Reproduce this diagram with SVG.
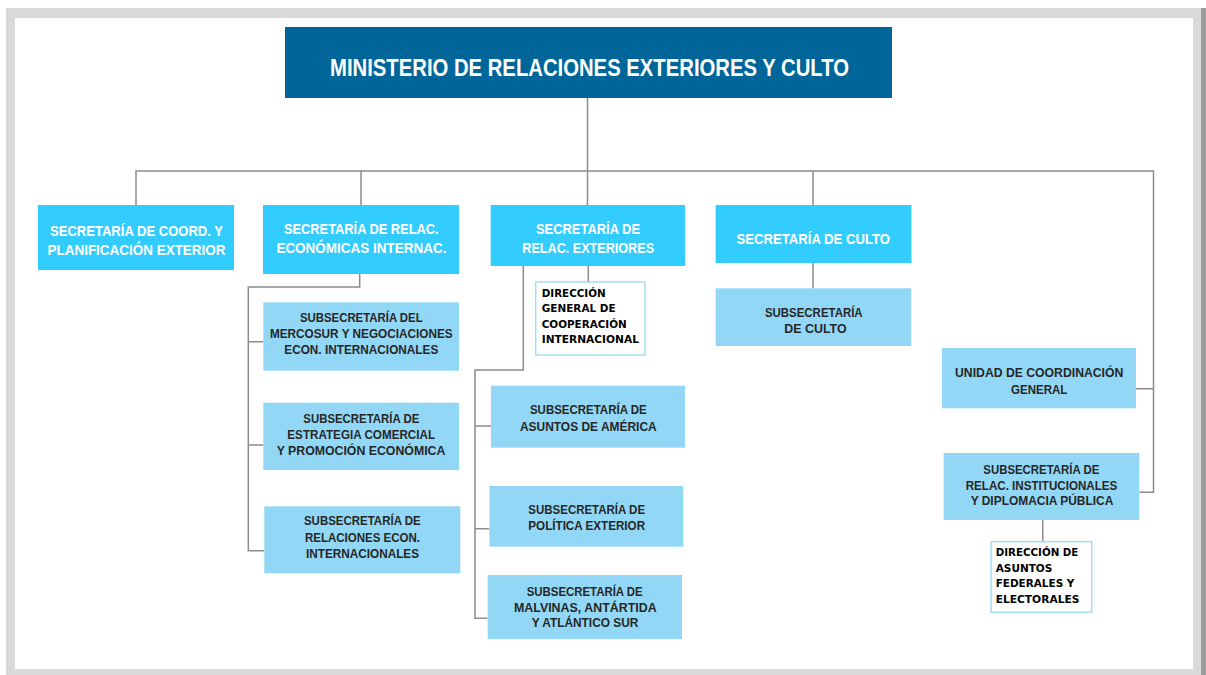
<svg xmlns="http://www.w3.org/2000/svg" width="1206" height="675" viewBox="0 0 1206 675">
<style>
.l1{fill:#33ccff}
.l2{fill:#92d8f6}
.dir{fill:#ffffff;stroke:#a6dcf1;stroke-width:1.5}
.tw{font-family:"Liberation Sans Narrow","Liberation Sans",Arial,sans-serif;font-weight:bold;fill:#ffffff;font-size:15px}
.td{font-family:"Liberation Sans Narrow","Liberation Sans",Arial,sans-serif;font-weight:bold;fill:#262626;font-size:13px}
.tb{font-family:"DejaVu Sans","Liberation Sans",sans-serif;font-weight:bold;fill:#000000;font-size:10px}
.con{fill:none;stroke:#8c8c8c;stroke-width:1.5}
</style>
<rect x="0" y="0" width="1206" height="675" fill="#ffffff"/>
<rect x="6" y="8" width="1195" height="667" fill="#d9d9d9"/>
<rect x="1201" y="8" width="5" height="667" fill="#9a9a9a"/>
<rect x="15" y="18" width="1178" height="651" fill="#ffffff"/>

<g id="connectors">
<path class="con" d="M587.5 98 V205 M136 205 V171 H1153.5 V492.3 H1139.3 M361 171 V205 M813 171 V205 M813 263 V288.3 M1153.5 388.7 H1136"/>
<path class="con" d="M359.7 274 V287 H248.3 V550.7 H264.3 M248.3 341.7 H263.3 M248.3 445 H263.3"/>
<path class="con" d="M588.3 266 V282 M523.3 266 V370 H475 V618.3 H487.7 M475 426 H491 M475 528.7 H489.3"/>
<path class="con" d="M1042.7 520 V541.7"/>
</g>

<g id="ministerio">
<rect x="285" y="27" width="607" height="71" fill="#006699"/>
<text x="589.5" y="76" text-anchor="middle" textLength="519" lengthAdjust="spacingAndGlyphs" style="font-family:'Liberation Sans Narrow','Liberation Sans',Arial,sans-serif;font-weight:bold;font-size:23px;fill:#ffffff">MINISTERIO DE RELACIONES EXTERIORES Y CULTO</text>
</g>

<g id="sec-coord">
<rect class="l1" x="38" y="205" width="196" height="65"/>
<text class="tw" x="136.5" y="236" text-anchor="middle" textLength="173" lengthAdjust="spacingAndGlyphs">SECRETARÍA DE COORD. Y</text>
<text class="tw" x="136.5" y="255" text-anchor="middle" textLength="178" lengthAdjust="spacingAndGlyphs">PLANIFICACIÓN  EXTERIOR</text>
</g>

<g id="sec-econ">
<rect class="l1" x="263" y="205" width="196" height="69"/>
<text class="tw" x="361.3" y="233.5" text-anchor="middle" textLength="154.6" lengthAdjust="spacingAndGlyphs">SECRETARÍA DE RELAC.</text>
<text class="tw" x="361.4" y="253" text-anchor="middle" textLength="170" lengthAdjust="spacingAndGlyphs">ECONÓMICAS INTERNAC.</text>
</g>

<g id="sec-ext">
<rect class="l1" x="490.7" y="205" width="194.3" height="61"/>
<text class="tw" x="588" y="234" text-anchor="middle" textLength="104" lengthAdjust="spacingAndGlyphs">SECRETARÍA DE</text>
<text class="tw" x="588.2" y="253" text-anchor="middle" textLength="131.7" lengthAdjust="spacingAndGlyphs">RELAC. EXTERIORES</text>
</g>

<g id="sec-culto">
<rect class="l1" x="715.6" y="205" width="195.9" height="58"/>
<text class="tw" x="813.3" y="244.3" text-anchor="middle" textLength="153.5" lengthAdjust="spacingAndGlyphs">SECRETARÍA DE CULTO</text>
</g>

<g id="sub-mercosur">
<rect class="l2" x="263.3" y="302.3" width="195.7" height="68.4"/>
<text class="td" x="361.3" y="322.3" text-anchor="middle" textLength="122.7" lengthAdjust="spacingAndGlyphs">SUBSECRETARÍA DEL</text>
<text class="td" x="361.3" y="338.3" text-anchor="middle" textLength="182.7" lengthAdjust="spacingAndGlyphs">MERCOSUR Y NEGOCIACIONES</text>
<text class="td" x="361.3" y="354" text-anchor="middle" textLength="154" lengthAdjust="spacingAndGlyphs">ECON. INTERNACIONALES</text>
</g>

<g id="sub-estrategia">
<rect class="l2" x="263.3" y="402.7" width="195.7" height="67.3"/>
<text class="td" x="361.3" y="423.3" text-anchor="middle" textLength="116" lengthAdjust="spacingAndGlyphs">SUBSECRETARÍA DE</text>
<text class="td" x="361.2" y="439.3" text-anchor="middle" textLength="147.7" lengthAdjust="spacingAndGlyphs">ESTRATEGIA COMERCIAL</text>
<text class="td" x="361" y="455" text-anchor="middle" textLength="168.7" lengthAdjust="spacingAndGlyphs">Y PROMOCIÓN ECONÓMICA</text>
</g>

<g id="sub-relaciones-econ">
<rect class="l2" x="264.3" y="506.3" width="196" height="67"/>
<text class="td" x="362.3" y="525" text-anchor="middle" textLength="116.7" lengthAdjust="spacingAndGlyphs">SUBSECRETARÍA DE</text>
<text class="td" x="362.5" y="542" text-anchor="middle" textLength="115" lengthAdjust="spacingAndGlyphs">RELACIONES ECON.</text>
<text class="td" x="362.5" y="558" text-anchor="middle" textLength="113" lengthAdjust="spacingAndGlyphs">INTERNACIONALES</text>
</g>

<g id="dir-cooperacion">
<rect class="dir" x="535.7" y="282" width="109.3" height="73"/>
<text class="tb" x="541.7" y="297" textLength="64" lengthAdjust="spacingAndGlyphs">DIRECCIÓN</text>
<text class="tb" x="541.7" y="312.3" textLength="74" lengthAdjust="spacingAndGlyphs">GENERAL DE</text>
<text class="tb" x="541.7" y="327.7" textLength="85" lengthAdjust="spacingAndGlyphs">COOPERACIÓN</text>
<text class="tb" x="541.7" y="343.3" textLength="97.3" lengthAdjust="spacingAndGlyphs">INTERNACIONAL</text>
</g>

<g id="sub-america">
<rect class="l2" x="491" y="385.7" width="194" height="62"/>
<text class="td" x="588.3" y="414" text-anchor="middle" textLength="116.7" lengthAdjust="spacingAndGlyphs">SUBSECRETARÍA DE</text>
<text class="td" x="588.3" y="431" text-anchor="middle" textLength="136.7" lengthAdjust="spacingAndGlyphs">ASUNTOS DE AMÉRICA</text>
</g>

<g id="sub-politica">
<rect class="l2" x="489.3" y="486" width="194" height="60.7"/>
<text class="td" x="586.7" y="514" text-anchor="middle" textLength="116.7" lengthAdjust="spacingAndGlyphs">SUBSECRETARÍA DE</text>
<text class="td" x="586.7" y="530" text-anchor="middle" textLength="116.7" lengthAdjust="spacingAndGlyphs">POLÍTICA EXTERIOR</text>
</g>

<g id="sub-malvinas">
<rect class="l2" x="487.7" y="575" width="194.3" height="64"/>
<text class="td" x="584.7" y="596" text-anchor="middle" textLength="116" lengthAdjust="spacingAndGlyphs">SUBSECRETARÍA DE</text>
<text class="td" x="585.3" y="611.7" text-anchor="middle" textLength="142.7" lengthAdjust="spacingAndGlyphs">MALVINAS, ANTÁRTIDA</text>
<text class="td" x="585" y="627.3" text-anchor="middle" textLength="106.7" lengthAdjust="spacingAndGlyphs">Y ATLÁNTICO SUR</text>
</g>

<g id="sub-culto">
<rect class="l2" x="715.7" y="288.3" width="195.6" height="57.7"/>
<text class="td" x="813.8" y="316.7" text-anchor="middle" textLength="97.7" lengthAdjust="spacingAndGlyphs">SUBSECRETARÍA</text>
<text class="td" x="815.5" y="332.7" text-anchor="middle" textLength="62.3" lengthAdjust="spacingAndGlyphs">DE  CULTO</text>
</g>

<g id="unidad-coordinacion">
<rect class="l2" x="942" y="348" width="194" height="60.3"/>
<text class="td" x="1039.2" y="376.7" text-anchor="middle" textLength="168.3" lengthAdjust="spacingAndGlyphs">UNIDAD DE COORDINACIÓN</text>
<text class="td" x="1039.2" y="393.5" text-anchor="middle" textLength="56.3" lengthAdjust="spacingAndGlyphs">GENERAL</text>
</g>

<g id="sub-relac-inst">
<rect class="l2" x="943.7" y="453" width="195.6" height="67"/>
<text class="td" x="1041.3" y="474" text-anchor="middle" textLength="116" lengthAdjust="spacingAndGlyphs">SUBSECRETARÍA DE</text>
<text class="td" x="1041.5" y="490" text-anchor="middle" textLength="151.7" lengthAdjust="spacingAndGlyphs">RELAC. INSTITUCIONALES</text>
<text class="td" x="1042" y="505.3" text-anchor="middle" textLength="142.7" lengthAdjust="spacingAndGlyphs">Y DIPLOMACIA PÚBLICA</text>
</g>

<g id="dir-asuntos-federales">
<rect class="dir" x="991" y="541.7" width="100.7" height="70.6"/>
<text class="tb" x="995.7" y="556.4" textLength="82.7" lengthAdjust="spacingAndGlyphs">DIRECCIÓN DE</text>
<text class="tb" x="995.7" y="572" textLength="56.7" lengthAdjust="spacingAndGlyphs">ASUNTOS</text>
<text class="tb" x="995.7" y="587.4" textLength="78.7" lengthAdjust="spacingAndGlyphs">FEDERALES Y</text>
<text class="tb" x="995.7" y="603.4" textLength="83.7" lengthAdjust="spacingAndGlyphs">ELECTORALES</text>
</g>
</svg>
